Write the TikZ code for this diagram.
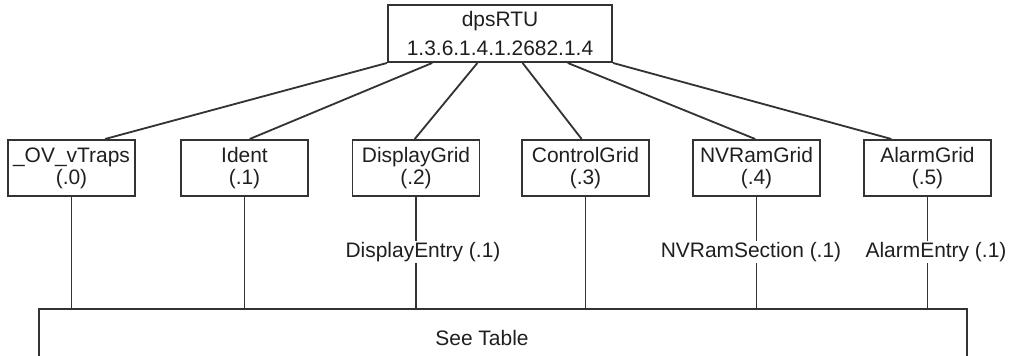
\documentclass[tikz,border=0pt]{standalone}
\usepackage{fontspec}
\setmainfont{Liberation Sans}
\usetikzlibrary{calc}

\begin{document}
\begin{tikzpicture}[font=\fontsize{14.9}{18}\selectfont, text=black!88,
          root/.style={draw=black!80, line width=1.4pt, minimum width=5.6cm, minimum height=1.425cm, align=center, font=\fontsize{14.9}{21.3}\selectfont},
          grid/.style={draw=black!80, line width=1.4pt, minimum width=3.175cm, minimum height=1.4cm, inner sep=0pt, align=center, font=\fontsize{14.9}{15.8}\selectfont},
          entry/.style={fill=white, inner sep=1pt},
          link/.style={draw=black!80, line width=1.3pt}]
        \useasboundingbox (0,0) rectangle (25.25,8.9);
        \node[root] (rtu) at (12.5,8.0625) {dpsRTU\\1.3.6.1.4.1.2682.1.4};
        \node[grid] (traps) at (1.7875,4.7) {\_OV\_vTraps\\(.0)};
        \node[grid] (ident) at (6.1125,4.7) {Ident\\(.1)};
        \node[grid] (disp) at (10.4,4.7) {DisplayGrid\\(.2)};
        \node[grid] (ctrl) at (14.6375,4.7) {ControlGrid\\(.3)};
        \node[grid] (nvram) at (18.9125,4.7) {NVRamGrid\\(.4)};
        \node[grid] (alarm) at (23.1875,4.7) {AlarmGrid\\(.5)};
        \node[draw=black!80, line width=1.4pt, minimum width=23.2cm, minimum height=1.5cm] (tbl) at (12.575,0.425) {};
        \node (seetbl) at (12.05,0.45) {See Table};
        \foreach \c/\a/\b in {traps/0/0.76, ident/0.2/0.54, disp/0.4/0.49, ctrl/0.6/0.47, nvram/0.8/0.49, alarm/1/0.22}
          \draw[link] ($(rtu.south west)!\a!(rtu.south east)$) -- ($(\c.north west)!\b!(\c.north east)$);
        \foreach \c in {traps, ident, disp, ctrl, nvram, alarm}
          \draw[link] (\c.south) -- (\c.south |- tbl.north);
        \node[entry] (dentry) at (10.575,2.6) {DisplayEntry (.1)};
        \node[entry] (nventry) at (18.775,2.6) {NVRamSection (.1)};
        \node[entry] (aentry) at (23.4,2.6) {AlarmEntry (.1)};
      \end{tikzpicture}
\end{document}
